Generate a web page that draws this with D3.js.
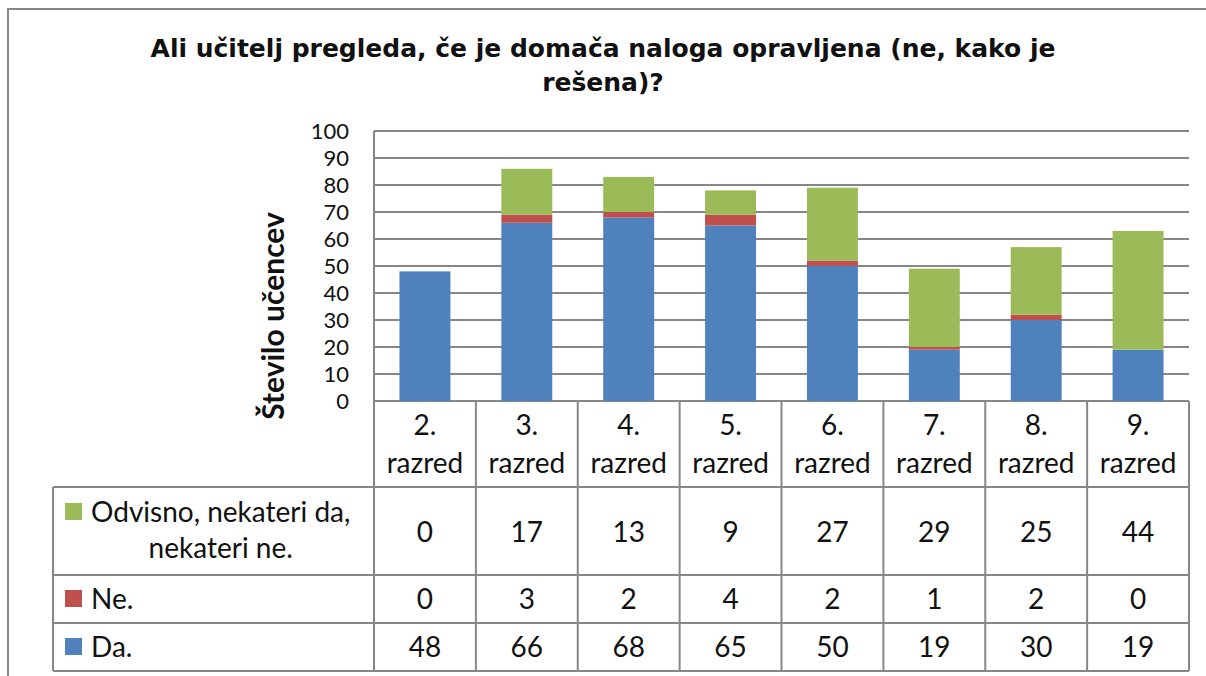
<!DOCTYPE html>
<html>
<head>
<meta charset="utf-8">
<script src="https://cdn.jsdelivr.net/npm/d3@7"></script>
<style>
  html, body { margin: 0; padding: 0; background: #fff; }
  svg { display: block; }
</style>
</head>
<body>
<script>
// podatki
const razredi = ["2.", "3.", "4.", "5.", "6.", "7.", "8.", "9."];
const da = [48, 66, 68, 65, 50, 19, 30, 19];
const ne = [0, 3, 2, 4, 2, 1, 2, 0];
const odvisno = [0, 17, 13, 9, 27, 29, 25, 44];
const yTicks = [0, 10, 20, 30, 40, 50, 60, 70, 80, 90, 100];
const naslov = ["Ali učitelj pregleda, če je domača naloga opravljena (ne, kako je", "rešena)?"];

const W = 1206, H = 676;
const mreza = "#878787";
const barve = { da: "#4F81BD", ne: "#C0504D", odvisno: "#9BBB59" };
const font = "Lato, 'Open Sans', sans-serif";

const svg = d3.select("body").append("svg")
  .attr("width", W).attr("height", H)
  .attr("xmlns", "http://www.w3.org/2000/svg");

// okvir grafikona
svg.append("rect")
  .attr("x", 8).attr("y", 9).attr("width", W + 10).attr("height", H + 10)
  .attr("fill", "#fff").attr("stroke", mreza).attr("stroke-width", 2);

// naslov
svg.append("text")
  .attr("text-anchor", "middle")
  .attr("font-family", "'DejaVu Sans', sans-serif")
  .attr("font-weight", "bold").attr("font-size", 25)
  .attr("fill", "#111")
  .selectAll("tspan").data(naslov).join("tspan")
  .attr("x", 603).attr("y", (d, i) => 57 + i * 34)
  .text(d => d);

const x0 = 374, x1 = 1189, yTop = 131, yBot = 401;

const x = d3.scaleBand().domain(razredi).range([x0, x1])
  .paddingInner(0.5).paddingOuter(0.25);
const y = d3.scaleLinear().domain([0, 100]).range([yBot, yTop]);

// mreža
svg.append("g").selectAll("line").data(yTicks).join("line")
  .attr("x1", x0).attr("x2", x1)
  .attr("y1", d => y(d)).attr("y2", d => y(d))
  .attr("stroke", mreza).attr("stroke-width", 2);

svg.append("line")
  .attr("x1", x0).attr("x2", x0).attr("y1", yTop).attr("y2", yBot)
  .attr("stroke", mreza).attr("stroke-width", 2);

// oznake osi y
const yAxis = d3.axisLeft(y).tickValues(yTicks).tickSize(0).tickPadding(0);
const gy = svg.append("g").attr("transform", `translate(349,0)`).call(yAxis);
gy.select(".domain").remove();
gy.selectAll("text")
  .attr("font-family", font).attr("font-size", 22).attr("fill", "#111");

svg.append("text")
  .attr("transform", `translate(284,316) rotate(-90)`)
  .attr("text-anchor", "middle")
  .attr("font-family", font).attr("font-weight", "bold").attr("font-size", 30)
  .attr("fill", "#111")
  .text("Število učencev");

// stolpci
const tabela = razredi.map((r, i) => ({ razred: r, da: da[i], ne: ne[i], odvisno: odvisno[i] }));
const kljuci = ["da", "ne", "odvisno"];
const sklad = d3.stack().keys(kljuci)(tabela);

svg.append("g").selectAll("g").data(sklad).join("g")
  .attr("fill", d => barve[d.key])
  .selectAll("rect").data(d => d).join("rect")
  .attr("x", d => x(d.data.razred))
  .attr("width", x.bandwidth())
  .attr("y", d => y(d[1]))
  .attr("height", d => y(d[0]) - y(d[1]));

// tabela s podatki
const step = x.step();
const vrstice = [
  { key: "odvisno", ime: ["Odvisno, nekateri da,", "nekateri ne."], vals: odvisno, base: 542 },
  { key: "ne", ime: ["Ne."], vals: ne, base: 609 },
  { key: "da", ime: ["Da."], vals: da, base: 657 }
];
const tabLeft = 53, tabBot = 671;

const crte = svg.append("g").attr("stroke", mreza).attr("stroke-width", 2);
// navpične črte
const meje = d3.range(razredi.length + 1).map(i => x0 + i * step);
crte.selectAll("line.v").data(meje).join("line").attr("class", "v")
  .attr("x1", d => d).attr("x2", d => d).attr("y1", yBot).attr("y2", tabBot);
crte.append("line").attr("x1", tabLeft).attr("x2", tabLeft).attr("y1", 487).attr("y2", tabBot);
// vodoravne črte
crte.selectAll("line.h").data([487, 575, 623, 671]).join("line").attr("class", "h")
  .attr("x1", tabLeft).attr("x2", x1).attr("y1", d => d).attr("y2", d => d);

// oznake razredov
const gx = svg.append("g").attr("font-family", font).attr("font-size", 28)
  .attr("fill", "#111").attr("text-anchor", "middle");
gx.selectAll("text").data(razredi).join("text")
  .attr("x", d => x(d) + x.bandwidth() / 2)
  .selectAll("tspan").data(d => [d, "razred"]).join("tspan")
  .attr("x", function () { return this.parentNode.getAttribute("x"); })
  .attr("y", (d, i) => 435 + i * 38)
  .text(d => d);

// vrednosti in legenda
vrstice.forEach(v => {
  const g = svg.append("g").attr("font-family", font).attr("font-size", 28).attr("fill", "#111");
  g.selectAll("text.val").data(v.vals).join("text").attr("class", "val")
    .attr("text-anchor", "middle")
    .attr("x", (d, i) => x(razredi[i]) + x.bandwidth() / 2)
    .attr("y", v.base)
    .text(d => d);

  const prvaY = v.ime.length > 1 ? 522 : v.base;
  g.append("rect")
    .attr("x", 65).attr("y", prvaY - 19).attr("width", 17).attr("height", 17)
    .attr("fill", barve[v.key]);
  const t1 = g.append("text").attr("x", 91).attr("y", prvaY).text(v.ime[0]);
  if (v.ime.length > 1) {
    const w = t1.node().getComputedTextLength();
    g.append("text").attr("text-anchor", "middle")
      .attr("x", 91 + w / 2).attr("y", 558).text(v.ime[1]);
  }
});
</script>
</body>
</html>
